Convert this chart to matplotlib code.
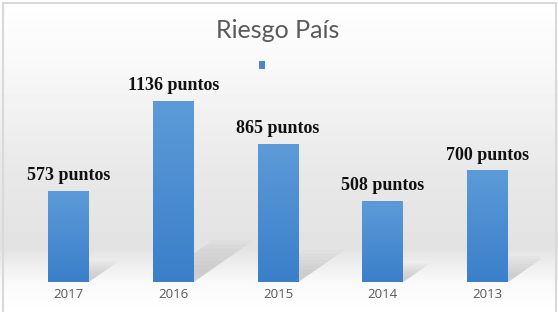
import numpy as np
import matplotlib
matplotlib.use("Agg")
import matplotlib.pyplot as plt
from matplotlib.patches import Rectangle, Patch, Polygon
from matplotlib.colors import LinearSegmentedColormap

years = ["2017", "2016", "2015", "2014", "2013"]
values = [573, 1136, 865, 508, 700]
labels = ["573 puntos", "1136 puntos", "865 puntos", "508 puntos", "700 puntos"]
title = "Riesgo País"

W, H = 558, 312
fig = plt.figure(figsize=(W / 100, H / 100), dpi=100)

# background gradient (figure level)
bg = fig.add_axes([0, 0, 1, 1], zorder=-10)
bg.set_axis_off()
ys = np.linspace(0, 1, 312)
stops_y = [0.0, 0.22, 0.55, 0.80, 0.90, 1.0]
stops_v = [1.0, 0.972, 0.91, 0.89, 0.975, 1.0]
col = np.interp(ys, stops_y, stops_v)
img = np.repeat(col[:, None], 10, axis=1)
bg.imshow(img, cmap="gray", vmin=0, vmax=1, aspect="auto", extent=[0, 1, 1, 0])
bg.set_xlim(0, 1)
bg.set_ylim(1, 0)
fig.add_artist(Rectangle((2.5 / W, -0.02), (W - 5) / W, 1 - 2.5 / H + 0.02,
                         transform=fig.transFigure, fill=False,
                         edgecolor="#d9d9d9", linewidth=1.5))

ax = fig.add_axes([16 / W, 30 / H, 524 / W, 0.664])
ax.set_facecolor("none")
x = np.arange(len(years))
ax.set_xlim(-0.5, len(years) - 0.5)
ax.set_ylim(0, 1300)

# shadows
for xi, v in zip(x, values):
    bw = 0.39
    dx = 0.000502 * v
    dy = 0.23 * v
    x0, x1 = xi - bw / 2, xi + bw / 2
    for k in range(8):
        s = 1 - k * 0.1
        poly = Polygon([(x0, 0), (x1, 0), (x1 + dx * s, dy * s), (x0 + dx * s, dy * s)],
                       closed=True, facecolor="#909090", edgecolor="none",
                       alpha=0.055, zorder=1)
        ax.add_patch(poly)

# bars with vertical gradient
bars = ax.bar(x, values, width=0.39, color="#4a8bd0", zorder=2)
cmap = LinearSegmentedColormap.from_list("b", ["#3a7fca", "#5d9bd8"])
grad = np.linspace(0, 1, 256)[:, None]
for b in bars:
    bx, by = b.get_x(), b.get_y()
    bwid, bh = b.get_width(), b.get_height()
    im = ax.imshow(grad, cmap=cmap, aspect="auto", origin="lower",
                   extent=[bx, bx + bwid, by, by + bh], zorder=3)
    im.set_clip_path(b)

for xi, v, lab in zip(x, values, labels):
    ax.annotate(lab, (xi, v), xytext=(0, 5), textcoords="offset points",
                ha="center", va="bottom", fontsize=13, fontweight="bold",
                family="Liberation Serif", color="#111111", zorder=5)

ax.set_xticks(x)
ax.set_xticklabels(years, fontsize=9.5, color="#595959", family="Open Sans")
ax.tick_params(axis="x", length=0, pad=4)
ax.set_yticks([])
for s in ax.spines.values():
    s.set_visible(False)
ax.set_xlim(-0.5, len(years) - 0.5)

fig.text(278 / W, 1 - 30 / H, title, ha="center", va="center", fontsize=18,
         color="#595959", family="Lato")

fig.legend(handles=[Patch(facecolor="#4a86c8")], labels=[""],
           loc="center", bbox_to_anchor=(262 / W, 1 - 66 / H),
           frameon=False, handlelength=0.45, handleheight=0.45,
           handletextpad=0, borderpad=0, fontsize=10)

fig.savefig("out.png", dpi=100)
